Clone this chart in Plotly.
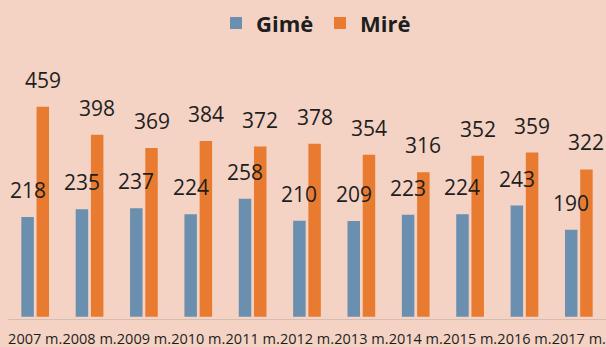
import plotly.graph_objects as go

years = ["2007 m.", "2008 m.", "2009 m.", "2010 m.", "2011 m.", "2012 m.",
         "2013 m.", "2014 m.", "2015 m.", "2016 m.", "2017 m."]
gime = [218, 235, 237, 224, 258, 210, 209, 223, 224, 243, 190]
mire = [459, 398, 369, 384, 372, 378, 354, 316, 352, 359, 322]

BG = "#F4D3C4"
BLUE = "#6A8FAF"
ORANGE = "#E97B31"
TEXT = "#1E1E1E"
FONT = "Open Sans"

W, H = 606, 347
ML, MR, MT, MB = 8, 0, 88, 28
BARGAP = 0.44
GROUPGAP = 0.18

fig = go.Figure()
fig.add_trace(go.Bar(name="Gimė", x=years, y=gime, marker=dict(color=BLUE, line=dict(width=0))))
fig.add_trace(go.Bar(name="Mirė", x=years, y=mire, marker=dict(color=ORANGE, line=dict(width=0))))

# value labels sit well above each bar, centred on it
cat_px = (W - ML - MR) / len(years)
slot_px = cat_px * (1 - BARGAP) / 2
annotations = []
for series, shift in ((gime, -slot_px / 2), (mire, slot_px / 2)):
    for yr, v in zip(years, series):
        annotations.append(dict(
            x=yr, y=v, xref="x", yref="y", text=str(v), showarrow=False,
            xshift=shift, yshift=27, yanchor="middle", xanchor="center",
            font=dict(family=FONT, size=21, color=TEXT),
        ))

fig.update_layout(
    width=W, height=H,
    margin=dict(l=ML, r=MR, t=MT, b=MB),
    paper_bgcolor=BG, plot_bgcolor=BG,
    barmode="group", bargap=BARGAP, bargroupgap=GROUPGAP,
    showlegend=True,
    legend=dict(
        orientation="h", x=(216 - ML) / (W - ML - MR), xanchor="left",
        y=1.28, yanchor="middle", entrywidth=59,
        font=dict(family=FONT, size=22, color=TEXT, weight="bold"),
        bgcolor="rgba(0,0,0,0)", itemclick=False,
    ),
    annotations=annotations,
    xaxis=dict(
        showgrid=False, showline=True, linecolor="#D8BCAF", linewidth=1,
        ticks="outside", ticklen=7, tickcolor="rgba(0,0,0,0)",
        tickangle=0, automargin=False,
        tickfont=dict(family=FONT, size=14.5, color=TEXT),
        range=[-0.5, len(years) - 0.5], fixedrange=True,
    ),
    yaxis=dict(
        range=[-5, 500], visible=False, showgrid=False, zeroline=False, fixedrange=True,
    ),
)

fig.write_html("out.html", config={"displayModeBar": False})
